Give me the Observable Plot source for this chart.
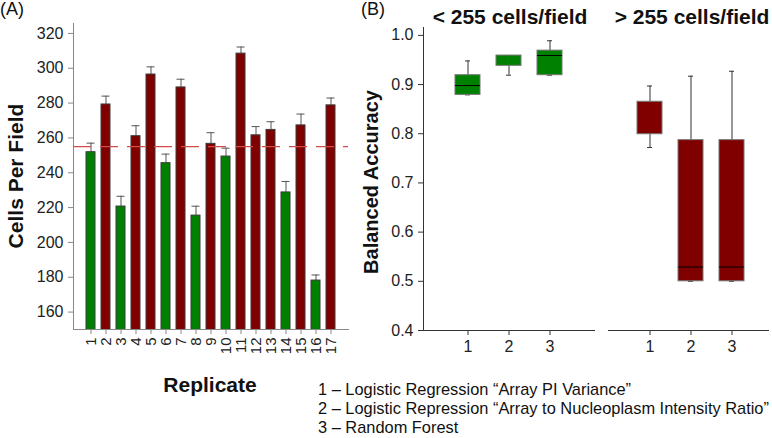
<!DOCTYPE html>
<html><head><meta charset="utf-8">
<script src="https://cdn.jsdelivr.net/npm/d3@7"></script>
<script src="https://cdn.jsdelivr.net/npm/@observablehq/plot@0.6"></script>
<style>
body{margin:0;background:#fff;}
#root{position:relative;width:772px;height:438px;font-family:"Liberation Sans",Arial,sans-serif;color:#111;overflow:hidden;background:#fff}
.abs{position:absolute;white-space:nowrap}
svg{position:absolute}
</style></head><body><div id="root"></div>
<script>
// ---- Panel A data ----
const replicates = ["1","2","3","4","5","6","7","8","9","10","11","12","13","14","15","16","17"];
const cellsPerField = [251.8, 279.2, 220.6, 261.0, 296.4, 245.5, 289.0, 215.4, 256.6, 249.3, 308.4, 261.5, 264.6, 228.7, 267.2, 178.1, 278.7];
const errorTop = [257.0, 284.0, 226.5, 267.0, 300.8, 250.7, 293.7, 220.8, 263.0, 254.1, 312.2, 266.5, 269.3, 235.0, 273.7, 181.3, 282.9];
const threshold = 255;
const yTicksA = [160, 180, 200, 220, 240, 260, 280, 300, 320];
const yDomainA = [150, 325.7];

// ---- Panel B data ----
const methods = ["1", "2", "3"];
const lowQ1 = [0.879, 0.938, 0.919];
const lowMedian = [0.898, 0.959, 0.959];
const lowQ3 = [0.919, 0.959, 0.969];
const lowWhiskerLo = [0.879, 0.919, 0.919];
const lowWhiskerHi = [0.948, 0.959, 0.989];
const highQ1 = [0.799, 0.500, 0.500];
const highMedian = [0.865, 0.529, 0.529];
const highQ3 = [0.865, 0.787, 0.787];
const highWhiskerLo = [0.772, 0.500, 0.500];
const highWhiskerHi = [0.897, 0.917, 0.927];
const yTicksB = [0.4, 0.5, 0.6, 0.7, 0.8, 0.9, 1.0];
const yDomainB = [0.4, 1.016];

const legendLines = [
  "1 \u2013 Logistic Regression \u201cArray PI Variance\u201d",
  "2 \u2013 Logistic Repression \u201cArray to Nucleoplasm Intensity Ratio\u201d",
  "3 \u2013 Random Forest"
];

const GREEN = "#008000", RED = "#800000";
const FONT = '"Liberation Sans", Arial, sans-serif';
const root = document.getElementById("root");

const dataA = replicates.map((r, i) => ({rep: r, value: cellsPerField[i], err: errorTop[i]}));

const plotA = Plot.plot({
  width: 360, height: 400,
  marginLeft: 73, marginRight: 12, marginTop: 23, marginBottom: 71,
  style: {fontFamily: FONT, fontSize: "16px", color: "#111", background: "none", overflow: "visible"},
  x: {domain: replicates, paddingInner: 0.38, paddingOuter: 0.7, label: null},
  y: {domain: yDomainA, label: null},
  marks: [
    Plot.ruleX(dataA, {x: "rep", y1: "value", y2: "err", stroke: "#555"}),
    Plot.tickY(dataA, {x: "rep", y: "err", stroke: "#555", insetLeft: 0.5, insetRight: 0.5}),
    Plot.barY(dataA, {x: "rep", y: "value", fill: d => d.value < threshold ? GREEN : RED, stroke: "#3a3a3a", strokeWidth: 1, clip: true}),
    Plot.ruleY([threshold], {stroke: "#d14b4b", strokeWidth: 1.2, strokeDasharray: "18,9"}),
    Plot.frame({anchor: "left", stroke: "#888"}),
    Plot.frame({anchor: "bottom", stroke: "#888"}),
    Plot.axisY(yTicksA, {tickSize: 5, tickPadding: 5, stroke: "#888", fill: "#222", fontSize: 16}),
    Plot.axisX({tickSize: 5, tickPadding: 3, tickRotate: -90, stroke: "#888", fill: "#222", fontSize: 15})
  ]
});
plotA.style.left = "0px"; plotA.style.top = "0px";
root.appendChild(plotA);

function boxData(q1, med, q3, lo, hi) {
  return methods.map((m, i) => ({m, q1: q1[i], med: med[i], q3: q3[i], lo: lo[i], hi: hi[i]}));
}
function boxMarks(d, color) {
  return [
    Plot.ruleX(d, {x: "m", y1: "lo", y2: "hi", stroke: "#333"}),
    Plot.tickY(d, {x: "m", y: "lo", stroke: "#333", insetLeft: 10, insetRight: 10}),
    Plot.tickY(d, {x: "m", y: "hi", stroke: "#333", insetLeft: 10, insetRight: 10}),
    Plot.barY(d, {x: "m", y1: "q1", y2: "q3", fill: color, stroke: "#777", strokeWidth: 1}),
    Plot.tickY(d.filter(b => b.med > b.q1 && b.med < b.q3), {x: "m", y: "med", stroke: "#000", strokeWidth: 1})
  ];
}

const plotB1 = Plot.plot({
  width: 260, height: 360,
  marginLeft: 83, marginRight: 6, marginTop: 27, marginBottom: 30,
  style: {fontFamily: FONT, fontSize: "16px", color: "#111", background: "none", overflow: "visible"},
  x: {domain: methods, paddingInner: 0.38, paddingOuter: 0.74, label: null},
  y: {domain: yDomainB, label: null},
  marks: [
    ...boxMarks(boxData(lowQ1, lowMedian, lowQ3, lowWhiskerLo, lowWhiskerHi), GREEN),
    Plot.frame({anchor: "left", stroke: "#333"}),
    Plot.frame({anchor: "bottom", stroke: "#333"}),
    Plot.axisY(yTicksB, {tickSize: 5, tickPadding: 5, stroke: "#333", fill: "#222", fontSize: 16, tickFormat: d3.format(".1f")}),
    Plot.axisX({tickSize: 5, tickPadding: 5, stroke: "#333", fill: "#222", fontSize: 16})
  ]
});
plotB1.style.left = "340px"; plotB1.style.top = "0px";
root.appendChild(plotB1);

const plotB2 = Plot.plot({
  width: 172, height: 360,
  marginLeft: 8, marginRight: 4, marginTop: 27, marginBottom: 30,
  style: {fontFamily: FONT, fontSize: "16px", color: "#111", background: "none", overflow: "visible"},
  x: {domain: methods, paddingInner: 0.38, paddingOuter: 0.6, align: 0.56, label: null},
  y: {domain: yDomainB, label: null, axis: null},
  marks: [
    ...boxMarks(boxData(highQ1, highMedian, highQ3, highWhiskerLo, highWhiskerHi), RED),
    Plot.frame({anchor: "bottom", stroke: "#333"}),
    Plot.axisX({tickSize: 5, tickPadding: 5, stroke: "#333", fill: "#222", fontSize: 16})
  ]
});
plotB2.style.left = "600px"; plotB2.style.top = "0px";
root.appendChild(plotB2);

// ---- texts ----
function addText(txt, css) {
  const d = document.createElement("div");
  d.className = "abs";
  d.textContent = txt;
  Object.assign(d.style, css);
  root.appendChild(d);
  return d;
}
addText("(A)", {left: "0px", top: "0px", fontSize: "18px", lineHeight: "18px"});
addText("(B)", {left: "361px", top: "0px", fontSize: "18px", lineHeight: "18px"});
addText("< 255 cells/field", {left: "410px", width: "200px", top: "5px", fontSize: "21px", fontWeight: "bold", lineHeight: "24px", textAlign: "center"});
addText("> 255 cells/field", {left: "592px", width: "200px", top: "5px", fontSize: "21px", fontWeight: "bold", lineHeight: "24px", textAlign: "center"});
addText("Replicate", {left: "110px", width: "200px", top: "373px", fontSize: "21px", fontWeight: "bold", lineHeight: "24px", textAlign: "center"});
addText("Cells Per Field", {left: "-84px", width: "200px", top: "164px", fontSize: "21px", fontWeight: "bold", lineHeight: "24px", textAlign: "center", transform: "rotate(-90deg)"});
addText("Balanced Accuracy", {left: "271px", width: "200px", top: "170px", fontSize: "20px", fontWeight: "bold", lineHeight: "24px", textAlign: "center", transform: "rotate(-90deg)"});
legendLines.forEach((t, i) => addText(t, {left: "318px", top: (379.5 + i * 19) + "px", fontSize: "16.4px", lineHeight: "19px", color: "#111"}));
</script></body></html>
